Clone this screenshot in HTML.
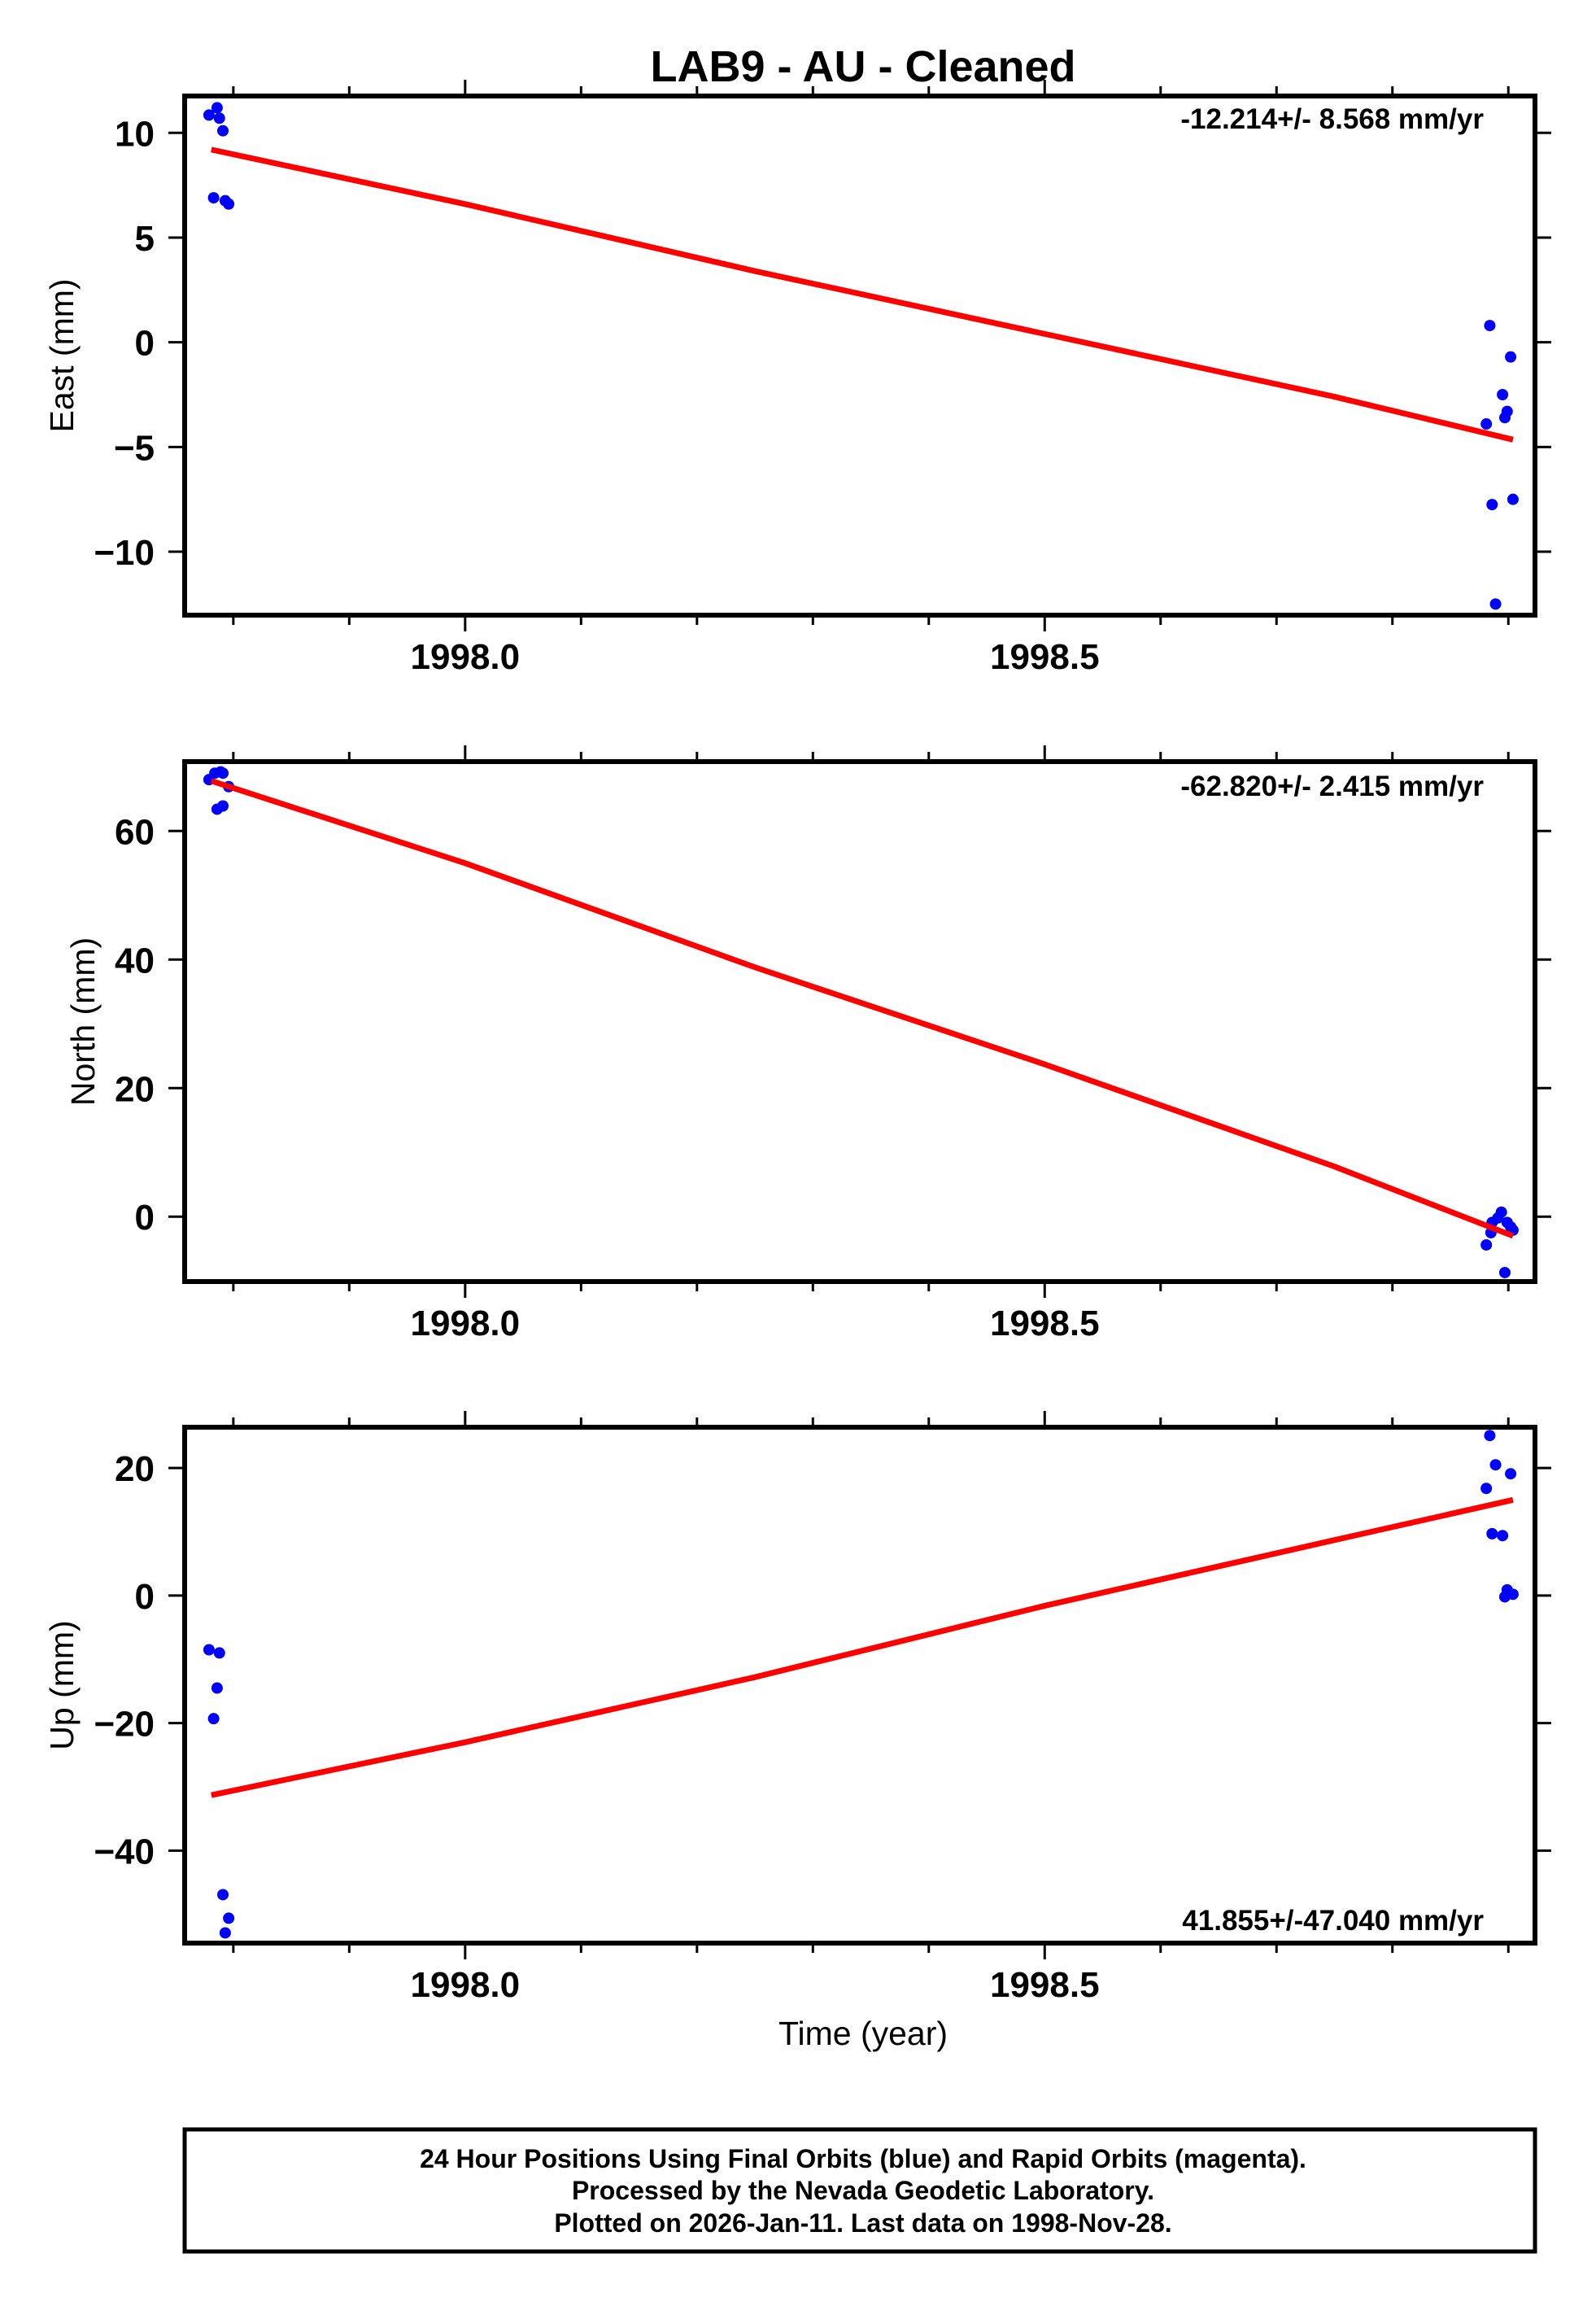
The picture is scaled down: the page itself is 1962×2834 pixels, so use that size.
<!DOCTYPE html>
<html><head><meta charset="utf-8"><style>
html,body{margin:0;padding:0;background:#fff;}
svg{display:block;font-family:"Liberation Sans",Arial,sans-serif;}
</style></head><body>
<svg id="chart" width="1962" height="2834" viewBox="0 0 1962 2834" xmlns="http://www.w3.org/2000/svg">
<text x="1061" y="100" text-anchor="middle" font-size="54" font-weight="bold">LAB9  - AU - Cleaned</text>
<g id="panels"></g>
<text x="1061" y="2513" text-anchor="middle" font-size="41">Time (year)</text>
<g>
<rect x="227" y="2617" width="1660" height="150" fill="none" stroke="#000" stroke-width="5"/>
<text x="1061" y="2664" text-anchor="middle" font-size="32" font-weight="bold">24 Hour Positions Using Final Orbits (blue) and Rapid Orbits (magenta).</text>
<text x="1061" y="2703" text-anchor="middle" font-size="32" font-weight="bold">Processed by the Nevada Geodetic Laboratory.</text>
<text x="1061" y="2743" text-anchor="middle" font-size="32" font-weight="bold">Plotted on 2026-Jan-11. Last data on 1998-Nov-28.</text>
</g>
</svg>
<script>
const xTickYears = [1997.8,1997.9,1998.0,1998.1,1998.2,1998.3,1998.4,1998.5,1998.6,1998.7,1998.8,1998.9];
const xLabelYears = [1998.0,1998.5];
const eastT = [1997.779,1997.786,1997.788,1997.791,1997.783,1997.793,1997.796,1998.884,1998.902,1998.895,1998.899,1998.897,1998.881,1998.886,1998.904,1998.889];
const eastV = [10.85,11.2,10.7,10.1,6.9,6.76,6.6,0.8,-0.7,-2.5,-3.3,-3.6,-3.9,-7.75,-7.5,-12.5];
const eastFitT = [1997.781,1998.0,1998.25,1998.5,1998.75,1998.904];
const eastFitV = [9.2,6.6,3.4,0.4,-2.6,-4.65];
const northT = [1997.779,1997.784,1997.789,1997.786,1997.791,1997.796,1997.791,1998.881,1998.886,1998.891,1998.894,1998.885,1998.899,1998.902,1998.904,1998.897];
const northV = [68.0,69.0,69.2,63.4,63.9,66.9,69.0,-4.4,-0.9,-0.2,0.7,-2.5,-0.9,-1.6,-2.1,-8.7];
const northFitT = [1997.781,1998.0,1998.25,1998.5,1998.75,1998.904];
const northFitV = [67.8,55.0,38.8,23.7,7.8,-3.0];
const upT = [1997.779,1997.788,1997.786,1997.783,1997.791,1997.796,1997.793,1998.884,1998.889,1998.902,1998.881,1998.886,1998.895,1998.899,1998.904,1998.897];
const upV = [-8.5,-9.0,-14.5,-19.3,-46.9,-50.6,-52.9,25.1,20.5,19.1,16.8,9.7,9.4,0.9,0.2,-0.2];
const upFitT = [1997.781,1998.0,1998.25,1998.5,1998.75,1998.904];
const upFitV = [-31.3,-23.0,-12.8,-1.6,8.7,15.0];
const eastTicks = [10,5,0,-5,-10];
const northTicks = [60,40,20,0];
const upTicks = [20,0,-20,-40];
const rates = ["-12.214+/- 8.568 mm/yr","-62.820+/- 2.415 mm/yr","41.855+/-47.040 mm/yr"];

const NS="http://www.w3.org/2000/svg";
const L=227,R=1887,X0=1997.758,X1=1998.923;
function xs(t){return L+(t-X0)/(X1-X0)*(R-L);}
function mk(tag,attrs,parent){const e=document.createElementNS(NS,tag);for(const k in attrs)e.setAttribute(k,attrs[k]);parent.appendChild(e);return e;}
const root=document.getElementById('panels');
const panels=[
 {name:'east',title:'East (mm)',top:118,bot:756,ymin:-13.03,ymax:11.76,ticks:eastTicks,t:eastT,v:eastV,ft:eastFitT,fv:eastFitV,rate:rates[0],rateY:158,tx:76},
 {name:'north',title:'North (mm)',top:936,bot:1575,ymin:-10.1,ymax:70.8,ticks:northTicks,t:northT,v:northV,ft:northFitT,fv:northFitV,rate:rates[1],rateY:978,tx:102},
 {name:'up',title:'Up (mm)',top:1754,bot:2388,ymin:-54.5,ymax:26.4,ticks:upTicks,t:upT,v:upV,ft:upFitT,fv:upFitV,rate:rates[2],rateY:2372,tx:76}
];
panels.forEach(p=>{
 const g=mk('g',{},root);
 
 
 const ys=v=>p.bot-(v-p.ymin)/(p.ymax-p.ymin)*(p.bot-p.top);
 xTickYears.forEach(t=>{
  const x=xs(t);const major=xLabelYears.some(m=>Math.abs(m-t)<1e-6);const len=major?20:12;
  const a=mk('line',{x1:x,x2:x,y1:p.top,y2:p.top-len,stroke:'#000','stroke-width':3},g);
  
  
  const b=mk('line',{x1:x,x2:x,y1:p.bot,y2:p.bot+len,stroke:'#000','stroke-width':3},g);
  
  
 });
 xLabelYears.forEach(t=>{
  const tx=mk('text',{x:xs(t),y:p.bot+66,'text-anchor':'middle','font-size':44,'font-weight':'bold'},g);
  tx.textContent=t.toFixed(1);
  
  
 });
 p.ticks.forEach(v=>{
  const y=ys(v);
  const a=mk('line',{x1:L-20,x2:L,y1:y,y2:y,stroke:'#000','stroke-width':3},g);
  
  
  const b=mk('line',{x1:R,x2:R+20,y1:y,y2:y,stroke:'#000','stroke-width':3},g);
  
  
  const tx=mk('text',{x:190,y:y+16,'text-anchor':'end','font-size':44,'font-weight':'bold'},g);
  tx.textContent=(v<0?'\u2212':'')+Math.abs(v);
  
  
 });
 const yt=mk('text',{x:0,y:0,'text-anchor':'middle','font-size':41,transform:`translate(${p.tx+14},${(p.top+p.bot)/2}) rotate(-90)`},g);
 yt.textContent=p.title;
 
 
 p.t.forEach((t,i)=>{
  const c=mk('circle',{cx:xs(t),cy:ys(p.v[i]),r:7,fill:'#0000ff'},g);
  
  
 });
 const pts=p.ft.map((t,i)=>xs(t)+','+ys(p.fv[i])).join(' ');
 const fl=mk('polyline',{points:pts,fill:'none',stroke:'#ff0000','stroke-width':7,'stroke-linejoin':'round'},g);
 
 
 const fr=mk('rect',{x:L,y:p.top,width:R-L,height:p.bot-p.top,fill:'none',stroke:'#000','stroke-width':6},g);
 
 
 const rt=mk('text',{x:1824,y:p.rateY,'text-anchor':'end','font-size':35,'font-weight':'bold'},g);
 rt.textContent=p.rate;
 
 
});
</script>
</body></html>
